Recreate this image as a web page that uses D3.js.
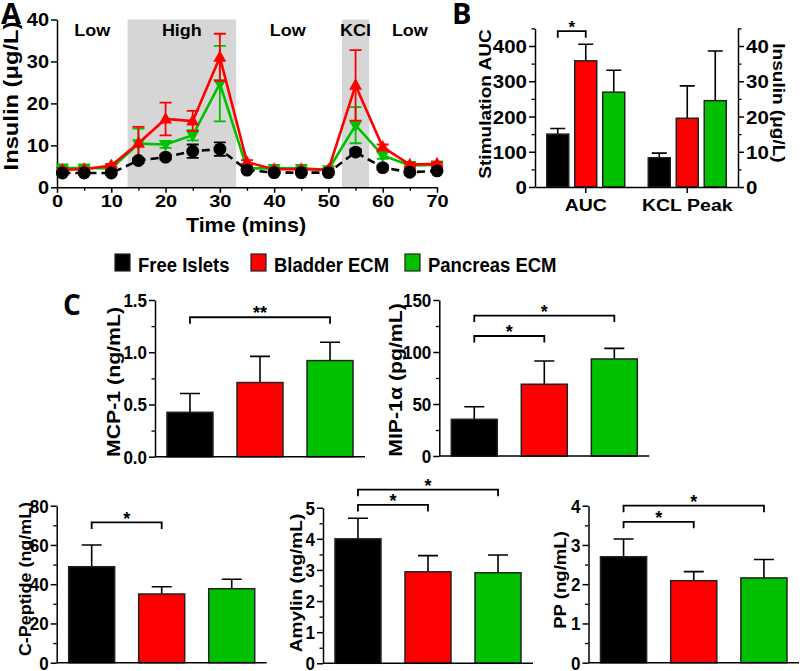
<!DOCTYPE html>
<html>
<head>
<meta charset="utf-8">
<script src="https://cdn.jsdelivr.net/npm/d3@7"></script>
<style>
  body { margin: 0; background: #fff; }
</style>
</head>
<body>
<script>
var width = 800;
var height = 671;
var FONT = 'Liberation Sans, Arial, sans-serif';

// groups (shared legend)
var groups = ['Free Islets', 'Bladder ECM', 'Pancreas ECM'];
var groupColors = ['#000000', '#ff0000', '#00c000'];

// panel A - perifusion insulin (ug/L)
var times = [1, 5, 10, 15, 20, 25, 30, 35, 40, 45, 50, 55, 60, 65, 70];
var freeInsulin = [3.4, 3.4, 3.4, 6.4, 7.2, 8.6, 9.1, 4.1, 3.5, 3.5, 3.5, 8.4, 4.7, 3.6, 3.9];
var freeInsulinErr = [0.4, 0.4, 0.4, 0.5, 0.6, 1.6, 1.6, 0.4, 0.3, 0.3, 0.3, 0.7, 0.5, 0.3, 0.3];
var bladderInsulin = [4.2, 4.3, 5.2, 10.5, 16.3, 15.8, 31.0, 6.0, 4.3, 4.3, 4.2, 24.3, 9.6, 5.4, 5.6];
var bladderInsulinErr = [0.4, 0.4, 0.4, 3.9, 3.9, 2.4, 5.6, 0.5, 0.3, 0.3, 0.3, 8.4, 0.6, 0.4, 0.4];
var pancreasInsulin = [4.6, 4.6, 4.5, 10.4, 10.2, 12.4, 24.7, 4.5, 4.5, 4.5, 4.2, 14.8, 7.6, 5.2, 5.3];
var pancreasInsulinErr = [0.4, 0.4, 0.3, 3.6, 0.8, 1.2, 9.0, 0.4, 0.3, 0.3, 0.3, 4.3, 0.8, 0.4, 0.4];

var phaseNames = ['Low', 'High', 'Low', 'KCl', 'Low'];
var phaseStart = [0, 13, 33, 52.5, 57.5];
var phaseEnd = [13, 33, 52.5, 57.5, 70];
var phaseShaded = [false, true, false, true, false];
var phaseLabelAt = [6.5, 23, 42.5, 55, 65];

// panel B
var bCategories = ['AUC', 'KCL Peak'];
var aucMean = [150, 358, 269];
var aucErr = [16, 47, 62];
var kclPeakMean = [8.3, 19.5, 24.5];   // right axis, ug/L
var kclPeakErr = [1.3, 9.2, 14.1];
var aucSig = [[0, 1, 442, '*']];

// panel C - secreted factors
var mcp1 = [0.425, 0.71, 0.92];
var mcp1Err = [0.18, 0.25, 0.175];
var mcp1Sig = [[0, 2, 1.335, '**']];

var mip1a = [35.3, 69, 93.3];
var mip1aErr = [12.1, 22.3, 10.2];
var mip1aSig = [[0, 1, 115.4, '*'], [0, 2, 135, '*']];

var cpeptide = [48.9, 35.0, 37.7];
var cpeptideErr = [11.1, 3.7, 4.8];
var cpeptideSig = [[0, 1, 71.5, '*']];

var amylin = [4.0, 2.94, 2.91];
var amylinErr = [0.66, 0.52, 0.57];
var amylinSig = [[0, 1, 5.09, '*'], [0, 2, 5.58, '*']];

var pp = [2.70, 2.09, 2.16];
var ppErr = [0.45, 0.23, 0.47];
var ppSig = [[0, 1, 3.59, '*'], [0, 2, 4.0, '*']];

var svg = d3.select('body').append('svg')
    .attr('width', width)
    .attr('height', height)
    .style('font-family', FONT)

// text with a vertical stretch (sy) to mimic the squashed/stretched figure lettering
function label(g, x, y, str, size, opt) {
    opt = opt || {}
    var sy = opt.sy == null ? 1 : opt.sy
    var tf = 'translate(' + x + ',' + y + ') scale(1,' + sy + ')'
    if (opt.rotate) tf += ' rotate(' + opt.rotate + ')'
    return g.append('text')
        .attr('transform', tf)
        .attr('text-anchor', opt.anchor || 'middle')
        .attr('font-size', size)
        .attr('font-weight', opt.weight || 'bold')
        .attr('font-family', opt.family || FONT)
        .attr('fill', '#000')
        .text(str)
}

// axis with major labelled ticks + minor ticks
function drawAxis(g, axisFn, scale, pos, major, minor, fmt, size, sy, isX, tick) {
    tick = tick || 6
    var ag = g.append('g')
        .attr('transform', isX ? 'translate(0,' + pos + ')' : 'translate(' + pos + ',0)')
        .call(axisFn(scale).tickValues(major).tickSize(tick).tickSizeOuter(0).tickPadding(2).tickFormat(fmt))
    var txt = ag.selectAll('text')
        .attr('font-size', size)
        .attr('font-weight', 'bold')
        .attr('font-family', FONT)
        .attr('fill', '#000')
    if (isX) {
        txt.attr('y', 0).attr('dy', 0)
            .attr('transform', 'translate(0,' + (tick + 2 + 0.716 * size * sy) + ') scale(1,' + sy + ')')
    } else {
        txt.attr('dy', 0).attr('transform', 'translate(0,' + (0.358 * size * sy) + ') scale(1,' + sy + ')')
    }
    if (minor && minor.length) {
        var mg = g.append('g')
            .attr('transform', isX ? 'translate(0,' + pos + ')' : 'translate(' + pos + ',0)')
            .call(axisFn(scale).tickValues(minor).tickSize(3.5).tickSizeOuter(0).tickFormat(''))
        mg.select('.domain').remove()
        mg.selectAll('line').attr('stroke-width', 1.3).attr('stroke', '#000')
    }
    ag.selectAll('.domain, line').attr('stroke-width', 1.5).attr('stroke', '#000')
    return ag
}

function bracket(g, x1, x2, y, star, starSize) {
    g.append('path')
        .attr('d', 'M' + x1 + ',' + (y + 6.5) + 'V' + y + 'H' + x2 + 'V' + (y + 6.5))
        .attr('fill', 'none')
        .attr('stroke', '#000')
        .attr('stroke-width', 1.8)
    label(g, (x1 + x2) / 2, y - 8 + 0.57 * starSize, star, starSize)
}

// ---------- Panel A ----------
var gA = svg.append('g')
var xA = d3.scaleLinear().domain([0, 70]).range([57, 437])
var yA = d3.scaleLinear().domain([0, 40]).range([187.3, 19.5])

phaseNames.forEach(function(name, i) {
    if (phaseShaded[i]) {
        gA.append('rect')
            .attr('x', xA(phaseStart[i]))
            .attr('y', yA(40))
            .attr('width', xA(phaseEnd[i]) - xA(phaseStart[i]))
            .attr('height', yA(0) - yA(40))
            .attr('fill', '#d6d6d6')
    }
    label(gA, xA(phaseLabelAt[i]), 36, name, 18, {sy: 0.88})
})

drawAxis(gA, d3.axisLeft, yA, xA(0), [0, 10, 20, 30, 40], [], d3.format('d'), 20, 0.9, false)
drawAxis(gA, d3.axisBottom, xA, yA(0), d3.range(0, 71, 10), d3.range(5, 70, 10), d3.format('d'), 20, 0.87, true, 5.5)

label(gA, 17.5, 96, 'Insulin (\u03bcg/L)', 21, {rotate: -90, sy: 1.13})
label(gA, 246, 232, 'Time (mins)', 21.5, {sy: 0.9})

var seriesA = [
    {mean: pancreasInsulin, err: pancreasInsulinErr, color: groupColors[2], marker: 'down', dash: null},
    {mean: bladderInsulin, err: bladderInsulinErr, color: groupColors[1], marker: 'up', dash: null},
    {mean: freeInsulin, err: freeInsulinErr, color: groupColors[0], marker: 'circle', dash: '8,5'}
]

seriesA.forEach(function(s) {
    var pts = times.map(function(t, i) { return {t: t, v: s.mean[i], e: s.err[i]} })
    var sg = gA.append('g')
    sg.selectAll('path.eb')
        .data(pts).enter()
        .append('path')
            .attr('class', 'eb')
            .attr('d', function(d) {
                var x = xA(d.t), y1 = yA(d.v + d.e), y2 = yA(d.v - d.e)
                return 'M' + x + ',' + y1 + 'V' + y2 + 'M' + (x - 6) + ',' + y1 + 'H' + (x + 6) + 'M' + (x - 6) + ',' + y2 + 'H' + (x + 6)
            })
            .attr('stroke', s.color)
            .attr('stroke-width', 1.8)
            .attr('fill', 'none')
    sg.append('path')
        .datum(pts)
        .attr('d', d3.line().x(function(d) { return xA(d.t) }).y(function(d) { return yA(d.v) }))
        .attr('fill', 'none')
        .attr('stroke', s.color)
        .attr('stroke-width', 2.6)
        .attr('stroke-dasharray', s.dash)
    sg.selectAll('.mk')
        .data(pts).enter()
        .append('path')
            .attr('class', 'mk')
            .attr('transform', function(d) { return 'translate(' + xA(d.t) + ',' + yA(d.v) + ')' })
            .attr('d', function() {
                if (s.marker == 'circle') return d3.symbol().type(d3.symbolCircle).size(130)()
                if (s.marker == 'up') return 'M0,-7L6.5,4.5L-6.5,4.5Z'
                return 'M0,7L6.5,-4.5L-6.5,-4.5Z'
            })
            .attr('fill', s.color)
})

label(svg, 1, 24, 'A', 29, {anchor: 'start', family: 'Open Sans'})

// ---------- Panel B ----------
var gB = svg.append('g')
var yBL = d3.scaleLinear().domain([0, 450]).range([187, 187 - 450 * 0.3525])
var yBR = d3.scaleLinear().domain([0, 45]).range([187, 187 - 450 * 0.3525])
var xB = d3.scaleBand().domain(bCategories).range([535, 738])
var xBin = d3.scalePoint().domain(groups).range([-28, 28])
var bw = 22

var bData = []
groups.forEach(function(gname, i) {
    bData.push({cat: bCategories[0], grp: gname, i: i, v: aucMean[i], e: aucErr[i], sc: yBL})
    bData.push({cat: bCategories[1], grp: gname, i: i, v: kclPeakMean[i], e: kclPeakErr[i], sc: yBR})
})
function bx(d) { return xB(d.cat) + xB.bandwidth() / 2 + xBin(d.grp) }

gB.selectAll('path.eb')
    .data(bData).enter()
    .append('path')
        .attr('d', function(d) {
            var x = bx(d), y1 = d.sc(d.v + d.e)
            return 'M' + x + ',' + d.sc(d.v) + 'V' + y1 + 'M' + (x - 7.5) + ',' + y1 + 'H' + (x + 7.5)
        })
        .attr('stroke', '#000')
        .attr('stroke-width', 1.6)
        .attr('fill', 'none')
gB.selectAll('rect')
    .data(bData).enter()
    .append('rect')
        .attr('x', function(d) { return bx(d) - bw / 2 })
        .attr('y', function(d) { return d.sc(d.v) })
        .attr('width', bw)
        .attr('height', function(d) { return d.sc(0) - d.sc(d.v) })
        .attr('fill', function(d) { return groupColors[d.i] })
        .attr('stroke', '#222')
        .attr('stroke-width', 1.5)

drawAxis(gB, d3.axisLeft, yBL, 535, d3.range(0, 401, 100), d3.range(50, 451, 100), d3.format('d'), 20.5, 0.9, false)
drawAxis(gB, d3.axisRight, yBR, 738, d3.range(0, 41, 10), d3.range(5, 46, 10), d3.format('d'), 20.5, 0.9, false)
var bAxis = gB.append('g').attr('transform', 'translate(0,187)')
    .call(d3.axisBottom(xB).tickSize(6).tickSizeOuter(0).tickFormat(''))
bAxis.selectAll('.domain, line').attr('stroke', '#000').attr('stroke-width', 1.5)
bCategories.forEach(function(c) {
    label(gB, xB(c) + xB.bandwidth() / 2, 211, c, 19.5, {sy: 0.88})
})

aucSig.forEach(function(s) {
    var x1 = xB(bCategories[0]) + xB.bandwidth() / 2 + xBin(groups[s[0]])
    var x2 = xB(bCategories[0]) + xB.bandwidth() / 2 + xBin(groups[s[1]])
    bracket(gB, x1, x2, yBL(s[2]), s[3], 17)
})

label(gB, 491, 104, 'Stimulation AUC', 17, {rotate: -90, sy: 1.12})
label(gB, 773, 103, 'Insulin (\u03bcg/L)', 17, {rotate: 90, sy: 1.12})
label(svg, 452, 24, 'B', 29, {anchor: 'start', family: 'Open Sans'})

// ---------- Legend ----------
var legX = [115, 251, 405]
groups.forEach(function(gname, i) {
    svg.append('rect')
        .attr('x', legX[i]).attr('y', 254)
        .attr('width', 15).attr('height', 17)
        .attr('fill', groupColors[i])
        .attr('stroke', '#222').attr('stroke-width', 1.2)
    label(svg, legX[i] + 23, 271.5, gname, 18.5, {anchor: 'start', sy: 1.08})
})

// ---------- Panel C ----------
function barPanel(p) {
    var g = svg.append('g')
    var x = d3.scaleBand().domain(groups).range([p.left, p.right]).paddingInner(0.343).paddingOuter(0.171)
    var y = d3.scaleLinear().domain([0, p.max]).range([p.y0, p.yTop])
    var data = groups.map(function(gname, i) { return {grp: gname, i: i, v: p.values[i], e: p.errs[i]} })
    function cx(d) { return x(d.grp) + x.bandwidth() / 2 }

    g.selectAll('path.eb')
        .data(data).enter()
        .append('path')
            .attr('d', function(d) {
                var xx = cx(d), y1 = y(d.v + d.e)
                return 'M' + xx + ',' + y(d.v) + 'V' + y1 + 'M' + (xx - 10) + ',' + y1 + 'H' + (xx + 10)
            })
            .attr('stroke', '#000')
            .attr('stroke-width', 1.6)
            .attr('fill', 'none')
    g.selectAll('rect')
        .data(data).enter()
        .append('rect')
            .attr('x', function(d) { return x(d.grp) })
            .attr('y', function(d) { return y(d.v) })
            .attr('width', x.bandwidth())
            .attr('height', function(d) { return y(0) - y(d.v) })
            .attr('fill', function(d) { return groupColors[d.i] })
            .attr('stroke', '#222')
            .attr('stroke-width', 1.5)

    drawAxis(g, d3.axisLeft, y, p.left, p.major, p.minor, p.fmt, 17, 1.05, false)
    g.append('line')
        .attr('x1', p.left).attr('x2', p.right)
        .attr('y1', p.y0).attr('y2', p.y0)
        .attr('stroke', '#000').attr('stroke-width', 1.5)

    p.sig.forEach(function(s) {
        bracket(g, cx(data[s[0]]), cx(data[s[1]]), y(s[2]), s[3], 18)
    })
    label(g, p.titleX, p.titleY, p.title, p.titleSize, {rotate: -90, sy: 1.12})
}

barPanel({left: 155, right: 365, y0: 456.7, yTop: 300, max: 1.5,
    major: [0, 0.5, 1.0, 1.5], minor: [0.25, 0.75, 1.25], fmt: d3.format('.1f'),
    values: mcp1, errs: mcp1Err, sig: mcp1Sig,
    title: 'MCP-1 (ng/mL)', titleX: 120, titleY: 382, titleSize: 19})

barPanel({left: 439.3, right: 649.3, y0: 456, yTop: 300, max: 150,
    major: [0, 50, 100, 150], minor: [25, 75, 125], fmt: d3.format('d'),
    values: mip1a, errs: mip1aErr, sig: mip1aSig,
    title: 'MIP-1\u03b1 (pg/mL)', titleX: 402, titleY: 380, titleSize: 19})

barPanel({left: 56.7, right: 266.7, y0: 662.7, yTop: 505.7, max: 80,
    major: [0, 20, 40, 60, 80], minor: [10, 30, 50, 70], fmt: d3.format('d'),
    values: cpeptide, errs: cpeptideErr, sig: cpeptideSig,
    title: 'C-Peptide (ng/mL)', titleX: 31, titleY: 579, titleSize: 16})

barPanel({left: 323, right: 533, y0: 663.3, yTop: 507.7, max: 5,
    major: [0, 1, 2, 3, 4, 5], minor: [0.5, 1.5, 2.5, 3.5, 4.5], fmt: d3.format('d'),
    values: amylin, errs: amylinErr, sig: amylinSig,
    title: 'Amylin (ng/mL)', titleX: 302, titleY: 583, titleSize: 17})

barPanel({left: 588.5, right: 799, y0: 662.7, yTop: 505.7, max: 4,
    major: [0, 1, 2, 3, 4], minor: [0.5, 1.5, 2.5, 3.5], fmt: d3.format('d'),
    values: pp, errs: ppErr, sig: ppSig,
    title: 'PP (ng/mL)', titleX: 566, titleY: 580, titleSize: 16.6})

label(svg, 63, 315, 'C', 28, {anchor: 'start', family: 'Open Sans'})
</script>
</body>
</html>
